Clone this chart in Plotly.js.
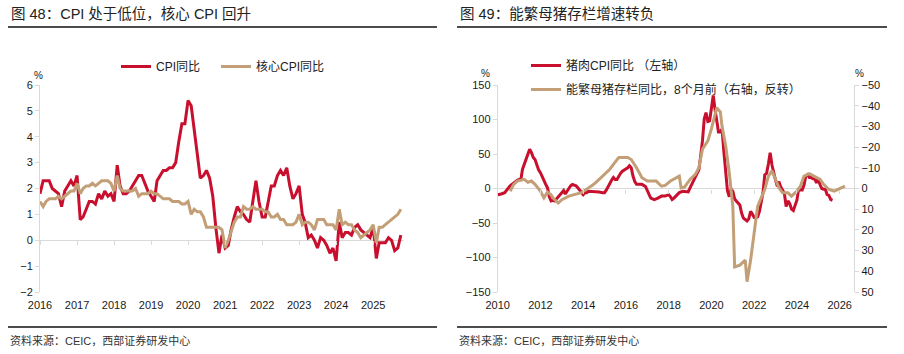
<!DOCTYPE html>
<html><head><meta charset="utf-8">
<script src="https://cdn.plot.ly/plotly-3.0.1.min.js"></script>
<style>html,body{margin:0;padding:0;background:#fff}#chart{width:904px;height:354px}</style>
</head><body><div id="chart"></div>
<script>
// ---------- Left chart data (monthly, from 2016-01) ----------
const cpiStart = [2016, 1];
const cpiYoY = [1.8,2.3,2.3,2.3,2.0,1.9,1.8,1.3,1.9,2.1,2.3,2.1,
2.5,0.8,0.9,1.2,1.5,1.5,1.4,1.8,1.6,1.9,1.7,1.8,
1.5,2.9,2.1,1.8,1.8,1.9,2.1,2.3,2.5,2.5,2.2,1.9,
1.7,1.5,2.3,2.5,2.7,2.7,2.8,2.8,3.0,3.8,4.5,4.5,
5.4,5.2,4.3,3.3,2.4,2.5,2.7,2.4,1.7,0.5,-0.5,0.2,
-0.3,-0.2,0.4,0.9,1.3,1.1,1.0,0.8,0.7,1.5,2.3,1.5,
0.9,0.9,1.5,2.1,2.1,2.5,2.7,2.5,2.8,2.1,1.6,1.8,
2.1,1.0,0.7,0.1,0.2,0.0,-0.3,0.1,0.0,-0.2,-0.5,-0.3,
-0.8,0.7,0.1,0.3,0.3,0.2,0.5,0.6,0.4,0.3,0.2,0.1,
0.5,-0.7,-0.1,-0.1,-0.1,0.1,0.0,-0.4,-0.3,0.2];
const coreYoY = [1.5,1.3,1.5,1.6,1.6,1.6,1.7,1.6,1.7,1.8,1.9,1.9,
2.2,1.8,2.0,2.1,2.1,2.2,2.1,2.2,2.3,2.3,2.3,2.2,
1.9,2.5,2.0,1.9,1.9,1.9,1.9,2.0,1.7,1.8,1.8,1.8,
1.9,1.8,1.8,1.7,1.6,1.6,1.6,1.5,1.5,1.5,1.4,1.4,
1.5,1.0,1.2,1.1,1.1,0.9,0.5,0.5,0.5,0.5,0.5,0.4,
-0.3,0.0,0.3,0.7,0.9,0.9,1.3,1.2,1.2,1.3,1.2,1.2,
1.2,1.1,1.1,0.9,0.9,1.0,0.8,0.8,0.6,0.6,0.6,0.7,
1.0,0.6,0.7,0.7,0.6,0.4,0.8,0.8,0.8,0.6,0.6,0.6,
0.4,1.2,0.6,0.7,0.6,0.6,0.4,0.3,0.1,0.2,0.3,0.4,
0.6,-0.1,0.5,0.5,0.6,0.7,0.8,0.9,1.0,1.2];
const leftNames = ['CPI同比', '核心CPI同比'];

// ---------- Right chart data ----------
const porkDates = ['2010-01','2010-02','2010-03','2010-05','2010-06','2010-07','2010-08','2010-09','2010-10','2010-11','2010-12',
'2011-01','2011-02','2011-03','2011-04','2011-05','2011-06','2011-07','2011-08','2011-09','2011-10','2011-11','2011-12',
'2012-01','2012-02','2012-03','2012-04','2012-05','2012-06','2012-07','2012-08','2012-09','2012-10','2012-11','2012-12',
'2013-01','2013-02','2013-03','2013-04','2013-05','2013-06','2013-07','2013-08','2013-09','2013-10','2013-11','2013-12',
'2014-01','2014-02','2014-03','2014-04','2014-06','2014-08','2014-10','2014-12',
'2015-01','2015-02','2015-03','2015-04','2015-05','2015-06','2015-07','2015-08','2015-09','2015-10','2015-11',
'2016-01','2016-02','2016-03','2016-04','2016-05','2016-06','2016-07','2016-08','2016-10','2016-12',
'2017-01','2017-02','2017-03','2017-05','2017-07','2017-09','2017-11',
'2018-01','2018-02','2018-03','2018-04','2018-06','2018-07','2018-09','2018-11','2018-12',
'2019-01','2019-02','2019-03','2019-04','2019-05','2019-06','2019-07','2019-08','2019-09','2019-10','2019-11','2019-12',
'2020-01','2020-02','2020-03','2020-04','2020-05','2020-06','2020-07','2020-08','2020-09','2020-10','2020-11','2020-12',
'2021-01','2021-02','2021-03','2021-04','2021-05','2021-06','2021-07','2021-08','2021-09','2021-10','2021-11','2021-12',
'2022-01','2022-02','2022-03','2022-04','2022-05','2022-06','2022-07','2022-08','2022-09','2022-10','2022-11','2022-12',
'2023-01','2023-02','2023-03','2023-04','2023-05','2023-06','2023-07','2023-08','2023-09','2023-10','2023-11','2023-12',
'2024-01','2024-02','2024-03','2024-04','2024-05','2024-06','2024-07','2024-08','2024-09','2024-10','2024-11','2024-12',
'2025-01','2025-02','2025-03','2025-04','2025-05','2025-06','2025-07','2025-08','2025-09'];
const porkYoY = [-9,-9,-8,-6,-2,1,4,6,8,11,12,
13,13,28,35,42,50,57,52,45,42,33,27,
23,18,12,6,1,-12,-18,-17,-18,-15,-11,-8,
-5,-3,-8,-3,0,4,6,5,4,1,-2,-5,
-9,-6,-6,-4,-4,-5,-5,-6,
-6,-2,3,8,12,16,13,13,18,22,25,
28,30,33,30,18,10,6,6,6,3,
-4,-9,-14,-16,-14,-11,-11,
-9,-12,-16,-14,-9,-6,-4,-5,-5,
1,6,10,16,21,27,47,69,101,110,97,98,
116,135,116,97,82,82,86,53,26,-3,-12,-1,
-4,-15,-18,-21,-24,-36,-43,-45,-47,-44,-33,-37,
-42,-42,-41,-33,-21,-6,20,22,36,52,34,22,
12,3,10,2,-3,-7,-26,-18,-22,-30,-32,-26,
-17,0,-2,-2,5,18,20,16,16,14,14,8,
14,5,0,-1,-1,-9,-10,-16,-17];
const sowDates = ['2010-08','2010-10','2010-12','2011-02','2011-04','2011-06','2011-08','2011-10',
'2012-01','2012-03','2012-05','2012-07','2012-08','2012-11','2013-01','2013-05','2013-08','2013-12',
'2014-04','2014-07','2014-10','2015-01','2015-04','2015-06','2015-09','2015-12','2016-02','2016-04','2016-07','2016-10',
'2017-01','2017-04','2017-06','2017-09','2017-11','2018-02','2018-05','2018-07','2018-08','2018-10',
'2019-01','2019-04','2019-06','2019-08','2019-11','2020-01','2020-04','2020-06','2020-07','2020-09','2020-11',
'2021-01','2021-02','2021-05','2021-08','2021-09','2021-11','2022-01','2022-03','2022-05','2022-07','2022-09','2022-11',
'2023-01','2023-03','2023-05','2023-08','2023-10','2024-01','2024-03','2024-05','2024-08','2024-11',
'2025-02','2025-04','2025-07','2025-10','2026-01','2026-04'];
const sowYoY = [1.3,-2,-3.6,-4,-4.4,-3,-3.6,-2,
1.3,4.5,1.8,3,4.5,7,5.4,3.7,3,2,
-0.3,-2,-4.4,-6.8,-9.3,-11.7,-15,-15,-15,-14,-10,-5.2,
-3.6,-3.6,-3.6,-1.1,-1.5,-3.6,-5.2,-6,-0.3,-0.8,
-4.4,-6.8,-10,-19,-23,-28.8,-39,-37,-30,-20.6,-7.6,
8.6,37.9,37,34.6,45,34.6,20,8.6,4.5,0.5,-6,-8.5,
-4.4,-0.3,2.1,2.1,3.7,1.3,-1.1,-6,-7.2,-6,
-4.4,-2,0.5,1.3,0,-1.1];
const rightNames = ['猪肉CPI同比 （左轴）', '能繁母猪存栏同比，8个月前（右轴，反转）'];

// ---------- build ----------
const cpiDates = cpiYoY.map((_, i) => {
  const m = cpiStart[1] - 1 + i;
  const y = cpiStart[0] + Math.floor(m / 12);
  return y + '-' + String(m % 12 + 1).padStart(2, '0') + '-01';
});
const RED = '#C8102E', TAN = '#C29F77';
const FONT = 'Liberation Sans, Arial, Noto Sans CJK SC, sans-serif';
const W = 904, H = 354;
const px = v => v / W, py = v => 1 - v / H;
const D0 = py(292), D1 = py(85);

const traces = [
  {x: cpiDates, y: cpiYoY, name: leftNames[0], type: 'scatter', mode: 'lines', line: {color: RED, width: 3}, xaxis: 'x', yaxis: 'y', legend: 'legend'},
  {x: cpiDates, y: coreYoY, name: leftNames[1], type: 'scatter', mode: 'lines', line: {color: TAN, width: 3}, xaxis: 'x', yaxis: 'y', legend: 'legend4'},
  {x: porkDates, y: porkYoY, name: rightNames[0], type: 'scatter', mode: 'lines', line: {color: RED, width: 3}, xaxis: 'x2', yaxis: 'y2', legend: 'legend2'},
  {x: sowDates, y: sowYoY, name: rightNames[1], type: 'scatter', mode: 'lines', line: {color: TAN, width: 3}, xaxis: 'x2', yaxis: 'y3', legend: 'legend3'},
  {x: [], y: [], xaxis: 'x3', yaxis: 'y', showlegend: false, hoverinfo: 'skip'},
  {x: [], y: [], xaxis: 'x4', yaxis: 'y2', showlegend: false, hoverinfo: 'skip'}
];

const tickFont = {family: FONT, size: 11, color: '#1a1a1a'};
const AX = '#d9d9d9';
const yL = [-2, 6], y2R = [-150, 150];
const zeroPosL = D0 + (0 - yL[0]) / (yL[1] - yL[0]) * (D1 - D0);
const zeroPosR = D0 + (0 - y2R[0]) / (y2R[1] - y2R[0]) * (D1 - D0);
const legFont = {family: FONT, size: 12, color: '#222'};

const layout = {
  width: W, height: H,
  margin: {l: 0, r: 0, t: 0, b: 0},
  paper_bgcolor: '#fff', plot_bgcolor: 'rgba(0,0,0,0)',
  font: {family: FONT},
  showlegend: true,
  xaxis: {domain: [px(40), px(404)], anchor: 'y', type: 'date', range: ['2016-01-01', '2025-11-01'],
    tick0: '2016-01-01', dtick: 'M12', tickformat: '%Y', showgrid: false, zeroline: false, showline: false,
    ticks: '', ticklabelstandoff: 5, tickfont: tickFont},
  yaxis: {domain: [D0, D1], anchor: 'x', range: yL, dtick: 1, showgrid: false, zeroline: true, zerolinecolor: AX, zerolinewidth: 1,
    showline: true, linecolor: AX, linewidth: 1, ticks: 'outside', ticklen: 4, tickcolor: AX, tickfont: tickFont},
  xaxis3: {overlaying: 'x', anchor: 'free', position: zeroPosL, type: 'date', range: ['2016-01-01', '2025-11-01'],
    tick0: '2016-01-01', dtick: 'M12', showticklabels: false, ticks: 'outside', ticklen: 4, tickcolor: AX, showline: false, showgrid: false, zeroline: false},
  xaxis2: {domain: [px(497.7), px(854.3)], anchor: 'y2', type: 'date', range: ['2010-01-01', '2026-09-08'],
    tick0: '2010-01-01', dtick: 'M24', tickformat: '%Y', showgrid: false, zeroline: false, showline: false,
    ticks: '', ticklabelstandoff: 5, tickfont: tickFont},
  xaxis4: {overlaying: 'x2', anchor: 'free', position: zeroPosR, type: 'date', range: ['2010-01-01', '2026-09-08'],
    tick0: '2010-01-01', dtick: 'M24', showticklabels: false, ticks: 'outside', ticklen: 4, tickcolor: AX, showline: false, showgrid: false, zeroline: false},
  yaxis2: {domain: [D0, D1], anchor: 'x2', range: y2R, dtick: 50, showgrid: false, zeroline: true, zerolinecolor: AX, zerolinewidth: 1,
    showline: true, linecolor: AX, linewidth: 1, ticks: 'outside', ticklen: 4, tickcolor: AX, tickfont: tickFont},
  yaxis3: {overlaying: 'y2', anchor: 'x2', side: 'right', range: [50, -50], dtick: 10, showgrid: false, zeroline: false,
    showline: true, linecolor: AX, linewidth: 1, ticks: 'outside', ticklen: 4, tickcolor: AX, tickfont: tickFont},
  legend: {orientation: 'h', x: px(116), y: py(52), xanchor: 'left', yanchor: 'top', font: legFont, bgcolor: 'rgba(0,0,0,0)'},
  legend4: {orientation: 'h', x: px(216), y: py(52), xanchor: 'left', yanchor: 'top', font: legFont, bgcolor: 'rgba(0,0,0,0)'},
  legend2: {x: px(526), y: py(51), xanchor: 'left', yanchor: 'top', font: legFont, bgcolor: 'rgba(0,0,0,0)'},
  legend3: {x: px(526), y: py(75), xanchor: 'left', yanchor: 'top', font: legFont, bgcolor: 'rgba(0,0,0,0)'},
  shapes: [
    {type: 'line', xref: 'paper', yref: 'paper', x0: px(8), x1: px(437), y0: py(27), y1: py(27), line: {color: '#111', width: 1.3}},
    {type: 'line', xref: 'paper', yref: 'paper', x0: px(457), x1: px(887), y0: py(27), y1: py(27), line: {color: '#111', width: 1.3}},
    {type: 'line', xref: 'paper', yref: 'paper', x0: px(8), x1: px(437), y0: py(327), y1: py(327), line: {color: '#111', width: 1.3}},
    {type: 'line', xref: 'paper', yref: 'paper', x0: px(457), x1: px(887), y0: py(327), y1: py(327), line: {color: '#111', width: 1.3}}
  ],
  annotations: [
    {text: '图 48：CPI 处于低位，核心 CPI 回升', xref: 'paper', yref: 'paper', x: px(9), y: py(14), xanchor: 'left', yanchor: 'middle', showarrow: false, font: {family: FONT, size: 14.5, color: '#222'}},
    {text: '图 49：能繁母猪存栏增速转负', xref: 'paper', yref: 'paper', x: px(458), y: py(14), xanchor: 'left', yanchor: 'middle', showarrow: false, font: {family: FONT, size: 14.5, color: '#222'}},
    {text: '资料来源：CEIC，西部证券研发中心', xref: 'paper', yref: 'paper', x: px(8), y: py(340), xanchor: 'left', yanchor: 'middle', showarrow: false, font: {family: FONT, size: 11, color: '#333'}},
    {text: '资料来源：CEIC，西部证券研发中心', xref: 'paper', yref: 'paper', x: px(457), y: py(340), xanchor: 'left', yanchor: 'middle', showarrow: false, font: {family: FONT, size: 11, color: '#333'}},
    {text: '%', xref: 'paper', yref: 'paper', x: px(38), y: py(75), xanchor: 'center', yanchor: 'middle', showarrow: false, font: {family: FONT, size: 10, color: '#1a1a1a'}},
    {text: '%', xref: 'paper', yref: 'paper', x: px(485), y: py(74), xanchor: 'center', yanchor: 'middle', showarrow: false, font: {family: FONT, size: 10, color: '#1a1a1a'}},
    {text: '%', xref: 'paper', yref: 'paper', x: px(859), y: py(74), xanchor: 'center', yanchor: 'middle', showarrow: false, font: {family: FONT, size: 10, color: '#1a1a1a'}}
  ]
};

Plotly.newPlot('chart', traces, layout, {displayModeBar: false, staticPlot: true});
</script></body></html>
